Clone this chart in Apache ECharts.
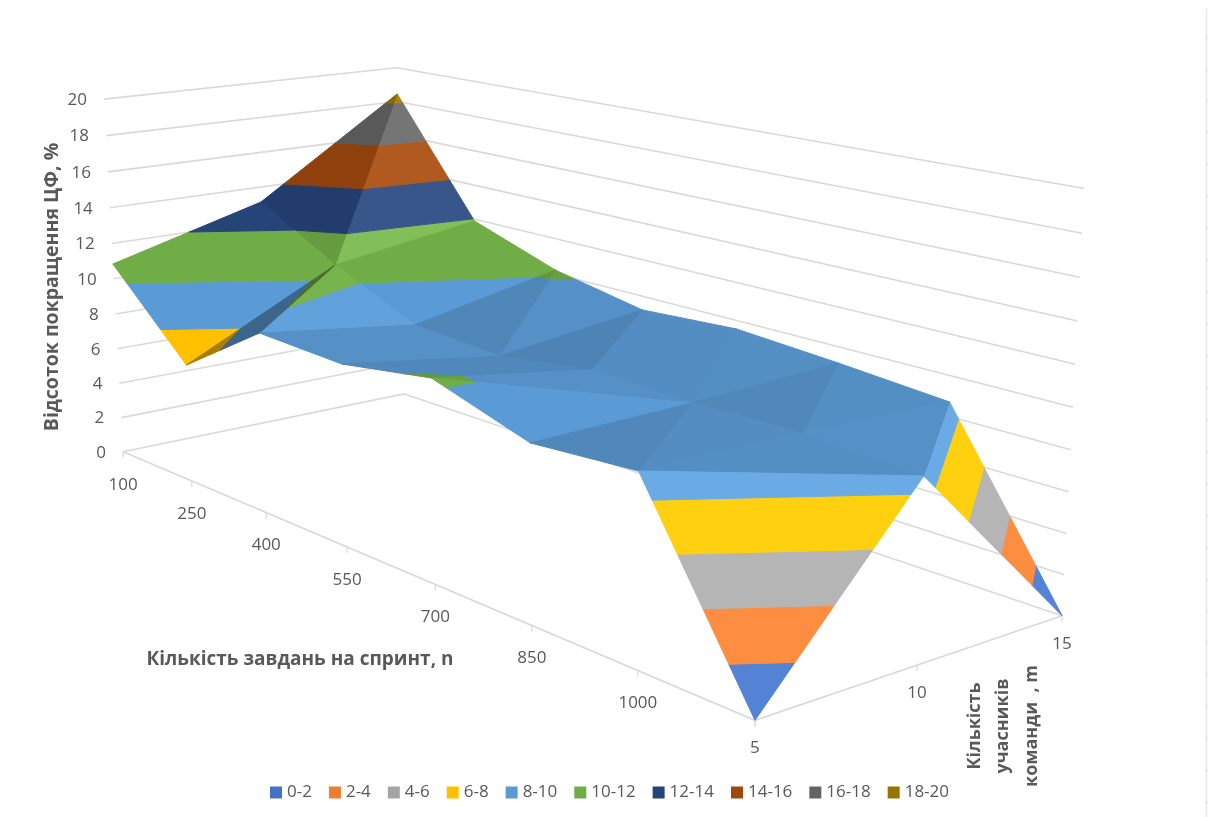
<!DOCTYPE html>
<html>
<head>
<meta charset="utf-8">
<style>html,body{margin:0;background:#fff}#chart{width:1208px;height:817px}</style>
<script src="https://cdn.jsdelivr.net/npm/echarts@6/dist/echarts.min.js"></script>
</head>
<body>
<div id="chart"></div>
<script>
// Surface data: improvement of the objective function, %, by sprint size and team size.
const taskLabels = ['100', '250', '400', '550', '700', '850', '1000', ''];
const teamLabels = ['5', '10', '15'];
const valuesTeam5  = [10.84, 6.51, 9.65, 9.46, 10.23, 8.70, 9.09, 0.0];
const valuesTeam10 = [13.13, 10.64, 8.56, 8.27, 8.99, 8.84, 8.98, 8.67];
const valuesTeam15 = [18.45, 11.89, 10.21, 9.24, 9.55, 9.17, 8.71, 0.0];
const zTicks = [0, 2, 4, 6, 8, 10, 12, 14, 16, 18, 20];
const bandNames = ['0-2', '2-4', '4-6', '6-8', '8-10', '10-12', '12-14', '14-16', '16-18', '18-20'];
const bandColors = ['#4472C4', '#ED7D31', '#A5A5A5', '#FFC000', '#5B9BD5', '#70AD47', '#264478', '#9E480E', '#636363', '#997300'];
// How each grid cell is split: 'a' joins (row, k) to (next row, k+1), 'b' joins (row, k+1) to (next row, k).
const cellSplitFront = ['a', 'b', 'a', 'b', 'a', 'b', 'a'];
const cellSplitBack  = ['b', 'a', 'b', 'b', 'b', 'b', 'b'];
// Facet lighting, two facets per cell, front row of cells then back row.
const facetLightFront = [1.0, 1.0, 0.65, 1.07, 0.93, 0.93, 0.88, 0.88, 1.0, 0.93, 0.88, 0.91, 1.16, 0.92];
const facetLightBack  = [0.9, 1.18, 1.0, 1.0, 0.87, 0.93, 0.85, 0.91, 0.91, 0.92, 0.88, 0.92, 0.93, 1.16];

// Camera: homogeneous projection of (n, m, z) in unit box space onto the page.
const camera = [
  [429.9801, 315.1337, -23.08069, 123.0659],
  [75.96793, -24.35923, -356.3169, 451.666],
  [-0.2674631, 0.08490555, -0.03815671, 1]
];
const depthOf = (u, v, w) => camera[2][0] * u + camera[2][1] * v + camera[2][2] * w + 1;
function project(u, v, w) {
  const d = depthOf(u, v, w);
  return [
    (camera[0][0] * u + camera[0][1] * v + camera[0][2] * w + camera[0][3]) / d,
    (camera[1][0] * u + camera[1][1] * v + camera[1][2] * w + camera[1][3]) / d
  ];
}

const rows = [valuesTeam5, valuesTeam10, valuesTeam15];
const nCount = taskLabels.length;
const vertex = (r, k) => ({ u: k / (nCount - 1), v: r / (rows.length - 1), z: rows[r][k] });

// Two triangles per cell, split along the stated diagonal.
const triangles = [];
[cellSplitFront, cellSplitBack].forEach((splits, r) => {
  splits.forEach((s, k) => {
    const a = vertex(r, k), b = vertex(r, k + 1), c = vertex(r + 1, k), d = vertex(r + 1, k + 1);
    if (s === 'a') triangles.push([a, b, d], [a, c, d]);
    else triangles.push([a, b, c], [b, c, d]);
  });
});
const facetLight = facetLightFront.concat(facetLightBack);

function shadeColor(hex, s) {
  const rgb = [1, 3, 5].map(i => parseInt(hex.substr(i, 2), 16));
  const out = rgb.map(c => Math.round(Math.min(255, s > 1 ? c + 100 * (s - 1) : c * s)));
  return 'rgb(' + out.join(',') + ')';
}

// Far facets are painted first.
const order = triangles
  .map((t, i) => ({ i, d: t.reduce((acc, q) => acc + depthOf(q.u, q.v, q.z / 20), 0) }))
  .sort((a, b) => b.d - a.d);
const paintRank = [];
order.forEach((o, rank) => { paintRank[o.i] = rank + 10; });

// Keeps the part of a facet lying between two heights.
function clipBand(poly, lo, hi) {
  const cut = (pts, keep, level) => {
    const res = [];
    pts.forEach((p, i) => {
      const q = pts[(i + 1) % pts.length];
      if (keep(p)) res.push(p);
      if (keep(p) !== keep(q)) {
        const t = (level - p.z) / (q.z - p.z);
        res.push({ u: p.u + (q.u - p.u) * t, v: p.v + (q.v - p.v) * t, z: level });
      }
    });
    return res;
  };
  return cut(cut(poly, p => p.z >= lo, lo), p => p.z <= hi, hi);
}

const toWall = z => z / 20;
const surfaceSeries = bandNames.map((name, b) => {
  const lo = zTicks[b], hi = zTicks[b + 1];
  const data = [];
  triangles.forEach((t, i) => {
    if (clipBand(t, lo, hi).length >= 3) data.push([i]);
  });
  return {
    type: 'custom', name, silent: true, animation: false,
    coordinateSystem: 'cartesian2d',
    itemStyle: { color: bandColors[b] },
    data,
    renderItem(params, api) {
      const i = api.value(0);
      const points = clipBand(triangles[i], lo, hi).map(q => api.coord(project(q.u, q.v, toWall(q.z))));
      const fill = shadeColor(bandColors[b], facetLight[i]);
      return {
        type: 'polygon', z2: paintRank[i], shape: { points },
        style: { fill, stroke: fill, lineWidth: 1 }
      };
    }
  };
});

const gridColor = '#D9D9D9', textColor = '#595959';
const fontFamily = '"Open Sans", "Noto Sans", sans-serif';
const labelSize = 17;

const wallSeries = {
  type: 'custom', silent: true, animation: false, z: 1,
  data: zTicks.map(z => [z]),
  renderItem(params, api) {
    const w = toWall(api.value(0));
    const points = [[0, 0], [0, 1], [1, 1]].map(([u, v]) => api.coord(project(u, v, w)));
    const a = api.coord(project(0, 0, w));
    return {
      type: 'group',
      children: [
        { type: 'polyline', shape: { points }, style: { stroke: gridColor, lineWidth: 1.6, fill: 'none' } },
        { type: 'text', style: { text: String(api.value(0)), x: a[0] - 17, y: a[1] + 1, align: 'right', verticalAlign: 'middle', fontSize: labelSize, fontFamily, fill: textColor } }
      ]
    };
  }
};

const floorSeries = {
  type: 'custom', silent: true, animation: false, z: 1,
  data: [[0]],
  renderItem(params, api) {
    const points = [[0, 0], [1, 0], [1, 1]].map(([u, v]) => api.coord(project(u, v, 0)));
    return { type: 'polyline', shape: { points }, style: { stroke: gridColor, lineWidth: 1.6, fill: 'none' } };
  }
};

const tickChildren = (a, label, dy) => [
  { type: 'line', shape: { x1: a[0], y1: a[1], x2: a[0], y2: a[1] + 6 }, style: { stroke: gridColor, lineWidth: 1.2 } },
  { type: 'text', style: { text: label, x: a[0], y: a[1] + dy, align: 'center', verticalAlign: 'middle', fontSize: labelSize, fontFamily, fill: textColor } }
];
const taskTickSeries = {
  type: 'custom', silent: true, animation: false, z: 1,
  data: taskLabels.map((_, k) => [k]),
  renderItem(params, api) {
    const k = api.value(0);
    const a = api.coord(project(k / (nCount - 1), 0, 0));
    return { type: 'group', children: tickChildren(a, taskLabels[k], 33) };
  }
};
const teamTickSeries = {
  type: 'custom', silent: true, animation: false, z: 1,
  data: teamLabels.map((_, r) => [r]),
  renderItem(params, api) {
    const r = api.value(0);
    const a = api.coord(project(1, r / (teamLabels.length - 1), 0));
    return { type: 'group', children: tickChildren(a, teamLabels[r], 28) };
  }
};

const sideText = (text, x, y, rotated, fontSize) => ({
  type: 'text', x, y, rotation: rotated ? Math.PI / 2 : 0, silent: true,
  style: { text, fontFamily, fontWeight: 'bold', fontSize, fill: textColor, align: 'center', verticalAlign: 'middle' }
});

// Ruler strip along the right-hand side of the sheet.
const sideRule = [{ type: 'line', silent: true, shape: { x1: 1206.5, y1: 9, x2: 1206.5, y2: 817 }, style: { stroke: '#E6E6E6', lineWidth: 1.5 } }];
for (let y = 37; y < 817; y += 31.9) {
  sideRule.push({ type: 'line', silent: true, shape: { x1: 1206, y1: y, x2: 1208, y2: y }, style: { stroke: '#DADADA', lineWidth: 1 } });
}

const chart = echarts.init(document.getElementById('chart'), null, { renderer: 'canvas' });
chart.setOption({
  backgroundColor: '#ffffff',
  animation: false,
  textStyle: { fontFamily },
  grid: { left: 0, right: 0, top: 0, bottom: 0 },
  xAxis: { type: 'value', min: 0, max: 1208, show: false },
  yAxis: { type: 'value', min: 0, max: 817, inverse: true, show: false },
  legend: {
    data: bandNames, left: 265, top: 779, itemWidth: 12, itemHeight: 12, itemGap: 17,
    icon: 'rect', selectedMode: false,
    textStyle: { color: textColor, fontSize: 17, fontFamily }
  },
  graphic: [
    sideText('Відсоток покращення ЦФ, %', 52, 287, true, 19.5),
    sideText('Кількість завдань на спринт, n', 300, 660, false, 19),
    sideText('Кількість', 975, 726, true, 18),
    sideText('учасників', 1003, 726, true, 18),
    sideText('команди  , m', 1032, 726, true, 18)
  ].concat(sideRule),
  series: [wallSeries, floorSeries, taskTickSeries, teamTickSeries].concat(surfaceSeries)
});
</script>
</body>
</html>
